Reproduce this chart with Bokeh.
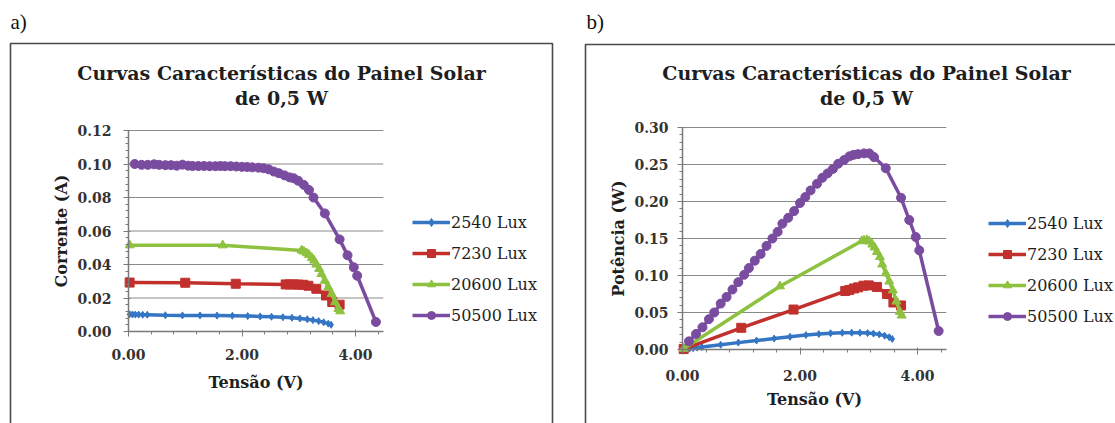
from bokeh.plotting import figure
from bokeh.layouts import row
from bokeh.models import (Range1d, SingleIntervalTicker, NumeralTickFormatter, Legend,
                          LegendItem, Label, BoxAnnotation)
from bokeh.embed import file_html
from bokeh.resources import INLINE

# ---------------- data ----------------
series_names = ["2540 Lux", "7230 Lux", "20600 Lux", "50500 Lux"]
series_colors = ["#3576C4", "#C2302D", "#8DC13F", "#7A4C9F"]

blue_v = [0.02, 0.07, 0.12, 0.18, 0.25, 0.33, 0.65, 0.95, 1.26, 1.56, 1.83, 2.10, 2.32, 2.52,
          2.72, 2.88, 3.02, 3.15, 3.25, 3.35, 3.44, 3.52, 3.57]
blue_i = [0.0103, 0.0102, 0.0101, 0.0101, 0.0100, 0.0100, 0.0097, 0.0096, 0.0096, 0.0095,
          0.0094, 0.0092, 0.0090, 0.0088, 0.0085, 0.0082, 0.0078, 0.0073, 0.0068, 0.0062,
          0.0055, 0.0047, 0.0040]
blue_p = [0.0002, 0.0007, 0.0012, 0.0018, 0.0025, 0.0033, 0.0064, 0.0093, 0.0121, 0.0148,
          0.0172, 0.0195, 0.0209, 0.0220, 0.0226, 0.0227, 0.0226, 0.0222, 0.0215, 0.0204,
          0.0187, 0.0166, 0.0143]

red_v = [0.02, 1.00, 1.89, 2.77, 2.84, 2.92, 2.99, 3.08, 3.17, 3.31, 3.48, 3.59, 3.72]
red_i = [0.0292, 0.0291, 0.0285, 0.0281, 0.0281, 0.0281, 0.0280, 0.0279, 0.0273, 0.0255,
         0.0215, 0.0176, 0.0160]
red_p = [0.0006, 0.0293, 0.0540, 0.0790, 0.0805, 0.0825, 0.0840, 0.0862, 0.0866, 0.0845,
         0.0750, 0.0635, 0.0595]

green_v = [0.02, 1.66, 3.05, 3.09, 3.14, 3.18, 3.23, 3.27, 3.31, 3.36, 3.40, 3.46, 3.52,
           3.58, 3.64, 3.70, 3.73]
green_i = [0.0515, 0.0515, 0.0484, 0.0478, 0.0468, 0.0458, 0.0440, 0.0424, 0.0400, 0.0374,
           0.0344, 0.0304, 0.0265, 0.0225, 0.0175, 0.0135, 0.0121]
green_p = [0.0010, 0.0855, 0.1465, 0.1475, 0.1478, 0.1460, 0.1420, 0.1380, 0.1320, 0.1250,
           0.1150, 0.1030, 0.0920, 0.0800, 0.0650, 0.0510, 0.0460]

purple_v = [0.11, 0.23, 0.34, 0.45, 0.54, 0.65, 0.75, 0.85, 0.95, 1.05, 1.13, 1.23, 1.33,
            1.43, 1.53, 1.62, 1.70, 1.80, 1.90, 2.00, 2.09, 2.18, 2.29, 2.38, 2.47, 2.56,
            2.65, 2.75, 2.84, 2.91, 2.99, 3.09, 3.18, 3.26, 3.46, 3.72, 3.86, 3.97, 4.03, 4.36]
purple_i = [0.1000, 0.0995, 0.0995, 0.0998, 0.0995, 0.0993, 0.0993, 0.0990, 0.0996, 0.0990,
            0.0988, 0.0988, 0.0988, 0.0987, 0.0987, 0.0988, 0.0987, 0.0987, 0.0985, 0.0983,
            0.0982, 0.0980, 0.0978, 0.0975, 0.0968, 0.0955, 0.0945, 0.0932, 0.0920, 0.0915,
            0.0900, 0.0875, 0.0845, 0.0800, 0.0705, 0.0550, 0.0455, 0.0383, 0.0333, 0.0057]
purple_p = [0.011, 0.021, 0.030, 0.041, 0.050, 0.062, 0.071, 0.081, 0.091, 0.101, 0.110,
            0.120, 0.129, 0.140, 0.150, 0.159, 0.170, 0.178, 0.187, 0.198, 0.206, 0.215,
            0.224, 0.232, 0.238, 0.244, 0.251, 0.256, 0.261, 0.263, 0.264, 0.265, 0.265,
            0.260, 0.245, 0.205, 0.175, 0.152, 0.134, 0.025]

title_line1 = "Curvas Características do Painel Solar"
title_line2 = "de 0,5 W"
x_label = "Tensão (V)"
y_label_a = "Corrente (A)"
y_label_b = "Potência (W)"
x_ticks = [0, 2, 4]
y_ticks_a = [0.00, 0.02, 0.04, 0.06, 0.08, 0.10, 0.12]
y_ticks_b = [0.00, 0.05, 0.10, 0.15, 0.20, 0.25, 0.30]

SERIF = "DejaVu Serif"
TXT = "#1e1e1e"
markers = ["diamond", "square", "triangle", "circle"]
msizes = [7, 9, 9, 9]
H = 423
X_END = 4.49


def build(width, geo, ylabel, y_ticks, volts, values, tag, tag_px, title_px, legend_loc,
          box_px, std):
    # geo: pixel x of V=0, pixels per volt, pixel y of value 0, pixels per unit
    x0px, xs, y0px, ys = geo
    fx = lambda px: (px - x0px) / xs
    fy = lambda py: (y0px - py) / ys
    p = figure(width=width, height=H, output_backend="svg", toolbar_location=None,
               x_range=Range1d(fx(0), fx(width)), y_range=Range1d(fy(H), fy(0)),
               min_border=0, min_border_left=0, min_border_right=0,
               min_border_top=0, min_border_bottom=0)
    p.outline_line_color = None
    p.background_fill_color = "white"
    p.border_fill_color = "white"
    p.xgrid.visible = False
    p.ygrid.visible = False

    y_step = y_ticks[1] - y_ticks[0]
    y_end = y_ticks[-1]
    # horizontal gridlines across the plot area only
    gl = [t for t in y_ticks[1:]]
    p.segment(x0=[0] * len(gl), x1=[X_END] * len(gl), y0=gl, y1=gl,
              line_color="#8a8a8a", line_width=1)

    p.xaxis.ticker = SingleIntervalTicker(interval=x_ticks[1] - x_ticks[0], num_minor_ticks=5)
    p.yaxis.ticker = SingleIntervalTicker(interval=y_step, num_minor_ticks=5)
    p.xaxis.fixed_location = 0
    p.yaxis.fixed_location = 0
    p.xaxis.bounds = (0, X_END)
    p.yaxis.bounds = (0, y_end * 1.0001)
    for ax in (p.xaxis, p.yaxis):
        ax.formatter = NumeralTickFormatter(format="0.00")
        ax.axis_line_color = "#7a7a7a"
        ax.axis_line_width = 1.5
        ax.major_tick_line_color = "#7a7a7a"
        ax.minor_tick_line_color = "#7a7a7a"
        ax.major_tick_in = 2
        ax.major_tick_out = 5
        ax.minor_tick_in = 0
        ax.minor_tick_out = 3
        ax.major_label_text_font = SERIF
        ax.major_label_text_font_style = "bold"
        ax.major_label_text_font_size = "14px"
        ax.major_label_text_color = "#333333"
        ax.axis_label_text_font = SERIF
        ax.axis_label_text_font_style = "bold"
        ax.axis_label_text_font_size = "16px"
        ax.axis_label_text_color = TXT
    p.xaxis.axis_label = x_label
    p.yaxis.axis_label = ylabel
    xts, xls, yts, yls = std
    p.xaxis.major_label_standoff = xts
    p.xaxis.axis_label_standoff = xls
    p.yaxis.major_label_standoff = yts
    p.yaxis.axis_label_standoff = yls

    items = []
    for k in range(4):
        ln = p.line(volts[k], values[k], line_color=series_colors[k], line_width=3.5)
        sc = p.scatter(volts[k], values[k], marker=markers[k], size=msizes[k],
                       fill_color=series_colors[k], line_color=series_colors[k])
        items.append(LegendItem(label=series_names[k], renderers=[ln, sc]))
    legend = Legend(items=items, location=legend_loc, glyph_width=38, glyph_height=20,
                    label_height=20, spacing=11, padding=0, margin=0, label_standoff=1,
                    border_line_color=None, background_fill_alpha=0,
                    label_text_font=SERIF, label_text_font_size="16px",
                    label_text_color=TXT)
    p.add_layout(legend)

    bl, br, bt = box_px
    p.add_layout(BoxAnnotation(left=fx(bl), right=fx(br), top=fy(bt), bottom=fy(H + 50),
                               fill_color=None, fill_alpha=0,
                               line_color="#4a4a4a", line_alpha=1.0, line_width=1.6))
    p.add_layout(Label(x=fx(tag_px[0]), y=fy(tag_px[1]), text=tag, text_align="left",
                       text_baseline="middle", text_font="Liberation Serif",
                       text_font_size="21px", text_color="#111111"))
    tx, ty1, ty2 = title_px
    for txt, ty in ((title_line1, ty1), (title_line2, ty2)):
        p.add_layout(Label(x=fx(tx), y=fy(ty), text=txt, text_align="center",
                           text_baseline="middle", text_font=SERIF,
                           text_font_style="bold", text_font_size="19px", text_color=TXT))
    return p


WA = 568
WB = 1115 - WA
pa = build(WA, (128, 56.75, 331, 201 / 0.12), y_label_a, y_ticks_a,
           [blue_v, red_v, green_v, purple_v], [blue_i, red_i, green_i, purple_i], "a)",
           (10, 21), (281, 72, 97), (412, H - 325), (10, 552, 43), (12, 10, 12, 3))
pb = build(WB, (682 - WA, 58.75, 349, 222 / 0.30), y_label_b, y_ticks_b,
           [blue_v, red_v, green_v, purple_v], [blue_p, red_p, green_p, purple_p], "b)",
           (586 - WA, 21), (866 - WA, 72, 97), (988 - WA, H - 326), (585 - WA, WB + 50, 44),
           (15, 6, 9, 3))

layout = row(pa, pb)
open("out.html", "w").write(file_html(layout, INLINE))
